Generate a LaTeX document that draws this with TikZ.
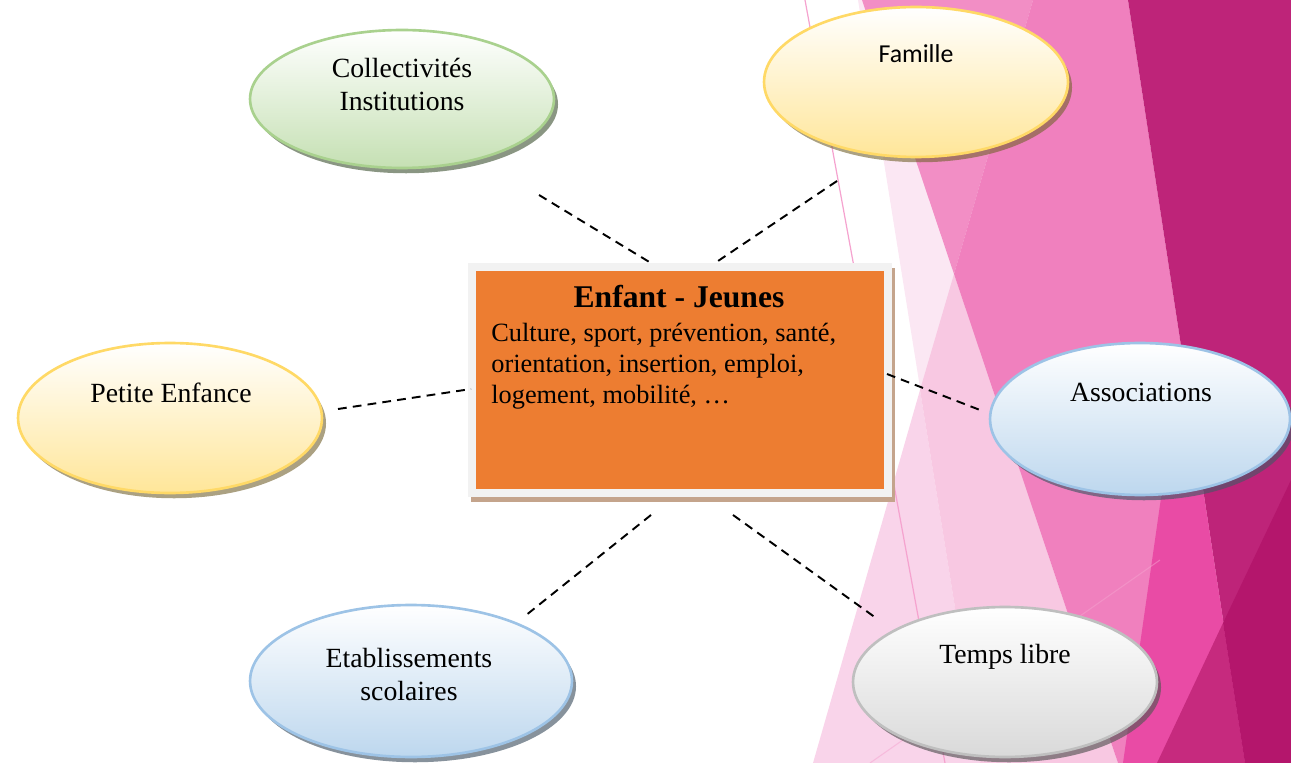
\documentclass[tikz,border=0pt]{standalone}
\usepackage{fontspec}
\setmainfont{Liberation Serif}
\newfontfamily\famfont{Carlito}
\usetikzlibrary{positioning,shapes,shadows}

\definecolor{greenline}{HTML}{A9D18E}
\definecolor{greenfill}{HTML}{C5E0B3}
\definecolor{yellowline}{HTML}{FFD966}
\definecolor{yellowfill}{HTML}{FFE699}
\definecolor{blueline}{HTML}{9DC3E6}
\definecolor{bluefill}{HTML}{BDD7EE}
\definecolor{grayline}{HTML}{BFBFBF}
\definecolor{grayfill}{HTML}{D9D9D9}
\definecolor{hubfill}{HTML}{ED7D31}
\definecolor{hubframe}{HTML}{F2F2F2}
\definecolor{hubshadow}{HTML}{C4A48C}
\definecolor{pinkline}{HTML}{F5A3CF}

\tikzset{
        bubble/.style={ellipse, inner sep=0pt, line width=1.5pt, minimum width=6.08cm, minimum height=3cm},
        % Green bubbles
        node_green/.style={bubble, draw=greenline, top color=white, bottom color=greenfill,
            drop shadow={shadow xshift=2.3pt, shadow yshift=-3pt, fill=greenline!45!black, opacity=.65}},
        % Yellow bubbles
        node_yellow/.style={bubble, draw=yellowline, top color=white, bottom color=yellowfill,
            drop shadow={shadow xshift=2.3pt, shadow yshift=-3pt, fill=yellowline!45!black, opacity=.6}},
        % Blue bubbles
        node_blue/.style={bubble, draw=blueline, top color=white, bottom color=bluefill,
            drop shadow={shadow xshift=2.3pt, shadow yshift=-3pt, fill=blueline!45!black, opacity=.65}},
        % Gray bubbles
        node_gray/.style={bubble, draw=grayline, top color=white, bottom color=grayfill,
            drop shadow={shadow xshift=2.3pt, shadow yshift=-3pt, fill=grayline!45!black, opacity=.65}},
        % Bubble labels
        bubble_text/.style={inner sep=0pt, align=center, font=\fontsize{15.8}{18.7}\selectfont},
        % Centre box
        node_hub/.style={rectangle, fill=hubfill, draw=hubframe, line width=0.16cm, inner sep=0pt,
            minimum width=8.32cm, minimum height=4.52cm,
            drop shadow={shadow xshift=1.7pt, shadow yshift=-2.8pt, fill=hubshadow, draw=hubshadow, line width=0.16cm, opacity=1}},
        hub_title/.style={inner sep=0pt, font=\fontsize{18}{21}\selectfont\bfseries},
        hub_text/.style={inner sep=0pt, align=left, font=\fontsize{15}{17.6}\selectfont},
        % Dashed links
        link/.style={line width=1.1pt, dash pattern=on 5pt off 3.5pt}
}

\begin{document}
\begin{tikzpicture}[x=0.02cm, y=-0.02cm]
    \useasboundingbox (0,0) rectangle (1291,763);

    % background facets
    \fill[fill={rgb,255:red,251;green,231;blue,243}] (858,0) -- (1291,0) -- (1291,763) -- (980,763) -- cycle;
    \fill[fill={rgb,255:red,249;green,212;blue,234}] (813,763) -- (920,390) -- (980,763) -- cycle;
    \fill[fill={rgb,255:red,248;green,200;blue,226}] (920,390) -- (954,274) -- (1118,763) -- (980,763) -- cycle;
    \fill[fill={rgb,255:red,242;green,142;blue,197}] (862,0) -- (1033,0) -- (954,274) -- cycle;
    \fill[fill={rgb,255:red,240;green,128;blue,190}] (1033,0) -- (1128,0) -- (1245,763) -- (1118,763) -- (954,274) -- cycle;
    \fill[fill={rgb,255:red,190;green,36;blue,121}] (1128,0) -- (1291,0) -- (1291,763) -- (1245,763) -- cycle;
    \fill[fill={rgb,255:red,233;green,75;blue,165}] (1165,470) -- (1200,470) -- (1245,763) -- (1123,763) -- cycle;
    \fill[fill={rgb,255:red,198;green,42;blue,126}] (1223,623) -- (1245,763) -- (1157,763) -- cycle;
    \fill[fill={rgb,255:red,180;green,22;blue,108}] (1223,623) -- (1291,480) -- (1291,763) -- (1245,763) -- cycle;
    \draw[pinkline, line width=0.7pt] (805,0) -- (945,763);
    \draw[pinkline, line width=0.6pt, opacity=.5] (870,763) -- (1160,560);

    % bubbles
    \node[node_green, minimum height=2.76cm] (coll) at (402,99) {};
    \node[node_yellow] (fam) at (916,82) {};
    \node[node_yellow] (pet) at (170,418) {};
    \node[node_blue, minimum width=6cm, minimum height=3.04cm] (assoc) at (1140,419) {};
    \node[node_blue, minimum width=6.44cm, minimum height=3.04cm] (etab) at (411,681) {};
    \node[node_gray] (temps) at (1005,682) {};

    % centre box
    \node[node_hub] (hub) at (680,380) {};
    \node[hub_title, anchor=base] (title) at (679,308) {Enfant - Jeunes};
    \node[hub_text, anchor=north west] (topics) at (491,323)
        {Culture, sport, prévention, santé,\\orientation, insertion, emploi,\\logement, mobilité, …};

    % bubble labels
    \node[bubble_text, anchor=north] (colltext) at (402,58) {Collectivités\\Institutions};
    \node[bubble_text, anchor=base, font=\famfont\fontsize{14.7}{17}\selectfont] (famtext) at (916,63) {Famille};
    \node[bubble_text, anchor=base] (pettext) at (171,402) {Petite Enfance};
    \node[bubble_text, anchor=base] (assoctext) at (1141,401) {Associations};
    \node[bubble_text, anchor=north] (etabtext) at (409,648) {Etablissements\\scolaires};
    \node[bubble_text, anchor=base] (tempstext) at (1005,663) {Temps libre};

    % links
    \draw[link] ([shift={(137,96)}]coll.center) -- ([shift={(-29,0)}]hub.north);
    \draw[link] ([shift={(-79,99)}]fam.center) -- ([shift={(35,0)}]hub.north);
    \draw[link] ([shift={(168,-9)}]pet.center) -- ([shift={(3,9)}]hub.west);
    \draw[link] ([shift={(-5,-6)}]hub.east) -- ([shift={(-160,-9)}]assoc.center);
    \draw[link] ([shift={(-29,18)}]hub.south) -- ([shift={(114,-65)}]etab.center);
    \draw[link] ([shift={(53,18)}]hub.south) -- ([shift={(-129,-64)}]temps.center);
\end{tikzpicture}
\end{document}
